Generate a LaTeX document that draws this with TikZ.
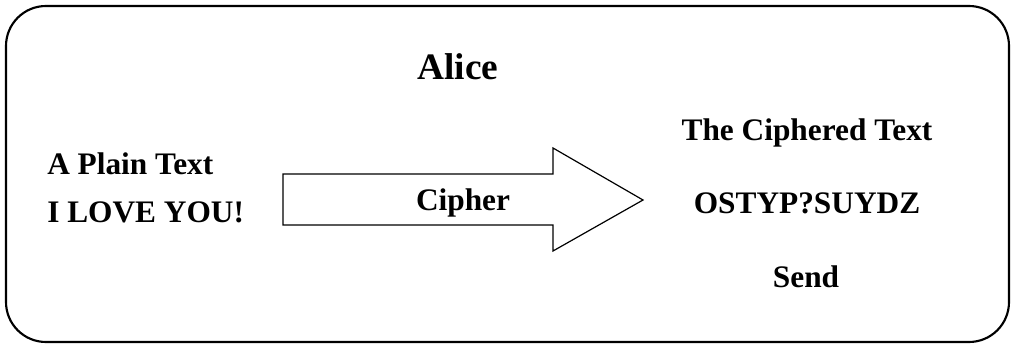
\documentclass[tikz,border=0pt]{standalone}
\usepackage{fontspec}
\setmainfont{Liberation Serif}
\begin{document}
\begin{tikzpicture}[x=0.75pt,y=-0.75pt,
  label/.style={font=\fontsize{23.5}{28}\selectfont\bfseries, inner sep=0pt},
  title/.style={font=\fontsize{28}{33}\selectfont\bfseries, inner sep=0pt},
  frame/.style={draw, line width=1.6pt, rounded corners=30pt},
  bigarrow/.style={draw, line width=0.9pt, line join=miter, fill=white}]
\useasboundingbox (0,0) rectangle (1013,349);
% outer rounded frame
\draw[frame] (6,6) rectangle (1009,342);
% block arrow
\draw[bigarrow] (283,174) -- (553,174) -- (553,148) -- (643,200)
  -- (553,251) -- (553,225) -- (283,225) -- cycle;
% texts
\node[title, anchor=base] (alice) at (458,80) {Alice};
\node[label, anchor=base west] (plain) at (47,175) {A Plain Text};
\node[label, anchor=base west] (msg) at (47,222) {I LOVE YOU!};
\node[label, anchor=base] (cipher) at (463,210) {Cipher};
\node[label, anchor=base] (ctitle) at (807,141) {The Ciphered Text};
\node[label, anchor=base] (ctext) at (807,213) {OSTYP?SUYDZ};
\node[label, anchor=base] (send) at (806,287) {Send};
\end{tikzpicture}
\end{document}
